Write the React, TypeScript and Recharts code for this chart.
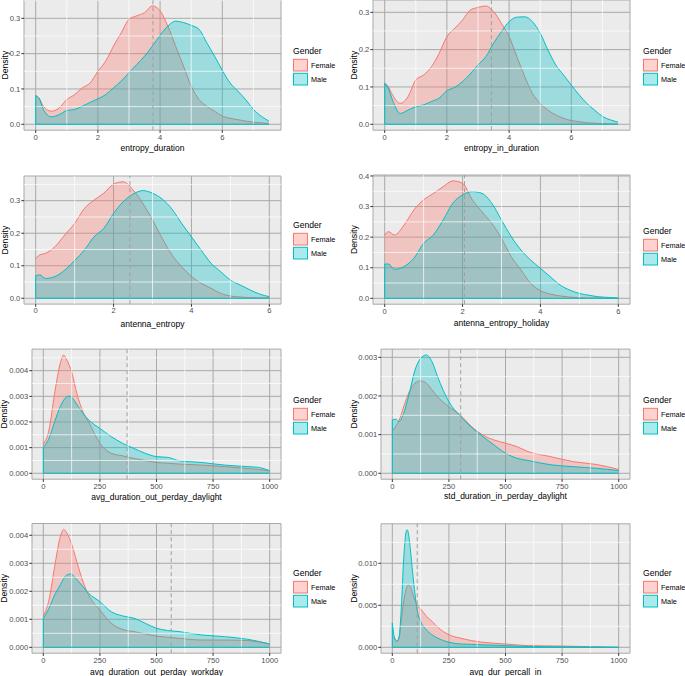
import React from 'react';
import { AreaChart, Area, XAxis, YAxis, CartesianGrid, ReferenceLine } from 'recharts';

const FEMALE = '#F8766D';
const MALE = '#00BFC4';
const FONT = '"Liberation Sans", Arial, sans-serif';

// density estimates
const entropyGrid = [0, 0.1, 0.25, 0.5, 0.75, 1, 1.25, 1.5, 1.75, 2, 2.25, 2.5, 2.75, 3, 3.25, 3.5, 3.75, 4, 4.25, 4.5, 4.75, 5, 5.25, 5.5, 5.75, 6, 6.25, 6.5, 6.75, 7, 7.25, 7.5];
const p1Female = [0.081, 0.075, 0.051, 0.037, 0.046, 0.07, 0.084, 0.103, 0.117, 0.15, 0.179, 0.221, 0.259, 0.297, 0.307, 0.316, 0.335, 0.321, 0.278, 0.221, 0.165, 0.108, 0.07, 0.051, 0.037, 0.023, 0.017, 0.013, 0.009, 0.006, 0.004, 0.002];
const p1Male = [0.081, 0.075, 0.042, 0.021, 0.027, 0.039, 0.042, 0.051, 0.062, 0.072, 0.084, 0.103, 0.122, 0.146, 0.169, 0.193, 0.221, 0.252, 0.278, 0.292, 0.288, 0.28, 0.269, 0.231, 0.193, 0.153, 0.117, 0.094, 0.07, 0.042, 0.023, 0.009];
const p2Female = [0.11, 0.103, 0.079, 0.056, 0.074, 0.119, 0.132, 0.154, 0.19, 0.235, 0.257, 0.279, 0.306, 0.313, 0.317, 0.302, 0.271, 0.235, 0.181, 0.128, 0.083, 0.056, 0.038, 0.025, 0.016, 0.01, 0.007, 0.004, 0.003, 0.002, 0.001, 0.001];
const p2Male = [0.11, 0.099, 0.065, 0.029, 0.038, 0.047, 0.052, 0.061, 0.07, 0.09, 0.099, 0.114, 0.135, 0.159, 0.181, 0.217, 0.248, 0.275, 0.287, 0.288, 0.275, 0.244, 0.199, 0.159, 0.132, 0.105, 0.079, 0.056, 0.038, 0.021, 0.012, 0.006];

const antennaGrid = [0, 0.1, 0.25, 0.5, 0.75, 1, 1.25, 1.5, 1.75, 2, 2.25, 2.5, 2.75, 3, 3.25, 3.5, 3.75, 4, 4.25, 4.5, 4.75, 5, 5.25, 5.5, 5.75, 6];
const p3Female = [0.123, 0.133, 0.138, 0.159, 0.195, 0.23, 0.276, 0.302, 0.323, 0.351, 0.358, 0.333, 0.292, 0.241, 0.184, 0.133, 0.097, 0.067, 0.046, 0.031, 0.015, 0.007, 0.004, 0.002, 0.001, 0.001];
const p3Male = [0.069, 0.072, 0.061, 0.067, 0.087, 0.116, 0.148, 0.189, 0.215, 0.261, 0.297, 0.32, 0.331, 0.323, 0.305, 0.274, 0.23, 0.189, 0.148, 0.108, 0.082, 0.056, 0.041, 0.026, 0.013, 0.005];
const p4Female = [0.207, 0.218, 0.207, 0.24, 0.289, 0.322, 0.343, 0.365, 0.384, 0.376, 0.322, 0.283, 0.245, 0.196, 0.136, 0.093, 0.049, 0.025, 0.014, 0.008, 0.004, 0.002, 0.001, 0.001, 0, 0];
const p4Male = [0.112, 0.112, 0.095, 0.104, 0.131, 0.18, 0.207, 0.256, 0.311, 0.338, 0.349, 0.343, 0.311, 0.256, 0.202, 0.158, 0.125, 0.098, 0.071, 0.044, 0.027, 0.016, 0.01, 0.005, 0.003, 0.001];

const p5Grid = [0, 25, 50, 75, 90, 100, 115, 125, 150, 175, 200, 250, 300, 350, 400, 450, 500, 550, 600, 700, 800, 900, 950, 1000];
const p5Female = [0.00113, 0.00169, 0.00312, 0.00429, 0.00461, 0.00448, 0.0042, 0.00396, 0.00305, 0.0024, 0.002, 0.00117, 0.00078, 0.00068, 0.00058, 0.0005, 0.00042, 0.00039, 0.00036, 0.00032, 0.00026, 0.00019, 0.00015, 0.0001];
const p5Male = [0.00101, 0.00136, 0.00201, 0.0026, 0.00285, 0.00296, 0.00301, 0.00296, 0.00266, 0.00234, 0.00208, 0.00175, 0.00143, 0.00117, 0.00097, 0.00078, 0.00065, 0.00062, 0.00049, 0.00042, 0.00032, 0.00026, 0.00023, 0.0001];

const p6Grid = [0, 15, 30, 50, 75, 100, 125, 150, 175, 200, 250, 300, 350, 400, 450, 500, 550, 600, 700, 800, 900, 1000];
const p6Female = [0.00108, 0.00122, 0.00137, 0.00172, 0.00211, 0.00233, 0.00239, 0.00233, 0.00216, 0.00198, 0.00172, 0.00151, 0.00121, 0.00099, 0.00086, 0.00078, 0.00069, 0.00056, 0.00043, 0.0003, 0.00023, 0.0001];
const p6Male = [0.00138, 0.0014, 0.00134, 0.00155, 0.00207, 0.00267, 0.00297, 0.00306, 0.00289, 0.0025, 0.00185, 0.00148, 0.00119, 0.00095, 0.00073, 0.00052, 0.00039, 0.00033, 0.00022, 0.00017, 0.00013, 0.00007];

const p7Grid = [0, 25, 50, 75, 90, 100, 120, 150, 175, 200, 250, 300, 350, 400, 450, 500, 550, 600, 700, 800, 900, 1000];
const p7Female = [0.00112, 0.00169, 0.00288, 0.00395, 0.00421, 0.00413, 0.0038, 0.003, 0.00235, 0.00187, 0.00133, 0.00086, 0.00064, 0.00056, 0.00048, 0.0004, 0.00036, 0.00032, 0.00026, 0.00026, 0.00024, 0.00012];
const p7Male = [0.00104, 0.00139, 0.00187, 0.00223, 0.00245, 0.00256, 0.00262, 0.0024, 0.00217, 0.00193, 0.00163, 0.00127, 0.00112, 0.00104, 0.00086, 0.00068, 0.0006, 0.00056, 0.00044, 0.00038, 0.00029, 0.00012];

const p8Grid = [0, 10, 20, 30, 40, 50, 60, 65, 70, 80, 90, 100, 110, 125, 150, 175, 200, 250, 300, 350, 400, 500, 600, 750, 1000];
const p8Female = [0.0013, 0.0011, 0.0007, 0.0011, 0.0033, 0.0054, 0.0068, 0.0072, 0.0074, 0.0072, 0.0064, 0.0056, 0.005, 0.0046, 0.0037, 0.0031, 0.0024, 0.0015, 0.0011, 0.0008, 0.0006, 0.0004, 0.0002, 0.00015, 0];
const p8Male = [0.0029, 0.0011, 0.0007, 0.0013, 0.0048, 0.0104, 0.0136, 0.014, 0.0137, 0.0116, 0.0088, 0.0064, 0.0044, 0.0031, 0.0021, 0.0015, 0.0011, 0.0006, 0.0004, 0.00035, 0.0003, 0.0002, 0.0001, 0.00005, 0];

const means = [3.77, 3.43, 2.42, 2.05, 370, 302, 565, 110];
const titles = [
  'entropy_duration', 'entropy_in_duration', 'antenna_entropy', 'antenna_entropy_holiday',
  'avg_duration_out_perday_daylight', 'std_duration_in_perday_daylight',
  'avg_duration_out_perday_workday', 'avg_dur_percall_in',
];

const entropyTicks = [0, 2, 4, 6];
const durationTicks = [0, 250, 500, 750, 1000];
const durationMinor = [125, 375, 625, 875];

type Cfg = {
  xs: number[]; female: number[]; male: number[];
  xTicks: number[]; xMinor: number[]; yTicks: number[]; yMinor: number[];
  xDomain: [number, number]; yDomain: [number, number]; digits: number;
  left: number; top: number; w: number; h: number;
  plot: { x: number; y: number; w: number; h: number };
  legend: { x: number; y: number }; densityX: number; titleOffset: number;
};

const panels: Cfg[] = [
  { xs: entropyGrid, female: p1Female, male: p1Male, xTicks: entropyTicks, xMinor: [1, 3, 5, 7], yTicks: [0, 0.1, 0.2, 0.3], yMinor: [0.05, 0.15, 0.25, 0.35], xDomain: [-0.376, 7.887], yDomain: [-0.01675, 0.3518], digits: 1,
    left: 0, top: 0, w: 343, h: 170, plot: { x: 24, y: 0, w: 257, h: 130.2 }, legend: { x: 293, y: 51 }, densityX: 5, titleOffset: 19.3 },
  { xs: entropyGrid, female: p2Female, male: p2Male, xTicks: entropyTicks, xMinor: [1, 3, 5, 7], yTicks: [0, 0.1, 0.2, 0.3], yMinor: [0.05, 0.15, 0.25], xDomain: [-0.376, 7.887], yDomain: [-0.01586, 0.333], digits: 1,
    left: 343, top: 0, w: 342, h: 170, plot: { x: 30, y: 0, w: 257, h: 130.2 }, legend: { x: 300, y: 51 }, densityX: 11, titleOffset: 18.7 },
  { xs: antennaGrid, female: p3Female, male: p3Male, xTicks: entropyTicks, xMinor: [1, 3, 5], yTicks: [0, 0.1, 0.2, 0.3], yMinor: [0.05, 0.15, 0.25, 0.35], xDomain: [-0.3, 6.3], yDomain: [-0.0179, 0.3759], digits: 1,
    left: 0, top: 170, w: 343, h: 170, plot: { x: 24, y: 6, w: 257, h: 128.1 }, legend: { x: 293, y: 55 }, densityX: 5, titleOffset: 13 },
  { xs: antennaGrid, female: p4Female, male: p4Male, xTicks: entropyTicks, xMinor: [1, 3, 5], yTicks: [0, 0.1, 0.2, 0.3, 0.4], yMinor: [0.05, 0.15, 0.25, 0.35], xDomain: [-0.3, 6.3], yDomain: [-0.0192, 0.4032], digits: 1,
    left: 343, top: 170, w: 342, h: 170, plot: { x: 30, y: 5, w: 257, h: 129.2 }, legend: { x: 300, y: 61 }, densityX: 11, titleOffset: 13.7 },
  { xs: p5Grid, female: p5Female, male: p5Male, xTicks: durationTicks, xMinor: durationMinor, yTicks: [0, 0.001, 0.002, 0.003, 0.004], yMinor: [0.0005, 0.0015, 0.0025, 0.0035, 0.0045], xDomain: [-50, 1050], yDomain: [-0.0002305, 0.0048405], digits: 3,
    left: 0, top: 340, w: 343, h: 170, plot: { x: 32, y: 9.1, w: 249, h: 130.1 }, legend: { x: 293, y: 60 }, densityX: 4, titleOffset: 10.3 },
  { xs: p6Grid, female: p6Female, male: p6Male, xTicks: durationTicks, xMinor: durationMinor, yTicks: [0, 0.001, 0.002, 0.003], yMinor: [0.0005, 0.0015, 0.0025], xDomain: [-50, 1050], yDomain: [-0.000153, 0.003213], digits: 3,
    left: 343, top: 340, w: 342, h: 170, plot: { x: 38, y: 9.1, w: 249, h: 130.1 }, legend: { x: 300, y: 60 }, densityX: 11, titleOffset: 11 },
  { xs: p7Grid, female: p7Female, male: p7Male, xTicks: durationTicks, xMinor: durationMinor, yTicks: [0, 0.001, 0.002, 0.003, 0.004], yMinor: [0.0005, 0.0015, 0.0025, 0.0035], xDomain: [-50, 1050], yDomain: [-0.0002105, 0.0044205], digits: 3,
    left: 0, top: 510, w: 343, h: 166, plot: { x: 32, y: 13.5, w: 249, h: 129.7 }, legend: { x: 293, y: 63 }, densityX: 4, titleOffset: 1.4 },
  { xs: p8Grid, female: p8Female, male: p8Male, xTicks: durationTicks, xMinor: durationMinor, yTicks: [0, 0.005, 0.01], yMinor: [0.0025, 0.0075, 0.0125], xDomain: [-50, 1050], yDomain: [-0.0007, 0.0147], digits: 3,
    left: 343, top: 510, w: 342, h: 166, plot: { x: 38, y: 13.8, w: 249, h: 129.4 }, legend: { x: 300, y: 63 }, densityX: 11, titleOffset: 1.4 },
];

const tickStyle = { fontSize: 7.6, fill: '#4D4D4D', fontFamily: FONT };

function GenderLegend({ x, y }: { x: number; y: number }) {
  const items = [
    { name: 'Female', color: FEMALE },
    { name: 'Male', color: MALE },
  ];
  return (
    <svg style={{ position: 'absolute', left: x, top: y - 8 }} width={60} height={46}>
      <text x={0} y={8} fontSize={8.6} fontFamily={FONT} fill="#000" dominantBaseline="central">Gender</text>
      {items.map((it, i) => (
        <g key={it.name}>
          <rect x={0.5} y={16.3 + i * 14} width={14} height={11.7} fill={it.color} fillOpacity={0.33} stroke={it.color} strokeWidth={1} />
          <text x={18} y={22.3 + i * 14} fontSize={7.3} fontFamily={FONT} fill="#000" dominantBaseline="central">{it.name}</text>
        </g>
      ))}
    </svg>
  );
}

function DensityPanel({ cfg, title, mean }: { cfg: Cfg; title: string; mean: number }) {
  const data = cfg.xs.map((x, i) => ({ x, female: cfg.female[i], male: cfg.male[i] }));
  const { plot } = cfg;
  const xAxisH = cfg.h - plot.y - plot.h;
  const cy = plot.y + plot.h / 2;
  const lastX = cfg.xs[cfg.xs.length - 1];
  return (
    <div style={{ position: 'absolute', left: cfg.left, top: cfg.top, width: cfg.w, height: cfg.h }}>
      <AreaChart
        width={cfg.w}
        height={cfg.h}
        data={data}
        margin={{ top: plot.y, right: cfg.w - plot.x - plot.w, left: 0, bottom: 0 }}
      >
        <CartesianGrid fill="#EBEBEB" fillOpacity={1} stroke="#A9A9A9" strokeWidth={1} />
        {cfg.xMinor.map((v) => (
          <ReferenceLine key={'xm' + v} x={v} stroke="#FFFFFF" strokeWidth={0.7} />
        ))}
        {cfg.yMinor.map((v) => (
          <ReferenceLine key={'ym' + v} y={v} stroke="#FFFFFF" strokeWidth={0.7} />
        ))}
        <XAxis
          type="number"
          dataKey="x"
          domain={cfg.xDomain}
          ticks={cfg.xTicks}
          interval={0}
          allowDataOverflow
          height={xAxisH}
          axisLine={false}
          tickLine={{ stroke: '#333333' }}
          tickSize={2.7}
          tickMargin={1.3}
          tick={tickStyle}
          label={{ value: title, position: 'insideBottom', offset: cfg.titleOffset, fontSize: 8.5, fill: '#000', fontFamily: FONT }}
        />
        <YAxis
          type="number"
          domain={cfg.yDomain}
          ticks={cfg.yTicks}
          interval={0}
          allowDataOverflow
          width={plot.x}
          axisLine={false}
          tickLine={{ stroke: '#333333' }}
          tickSize={2.7}
          tickMargin={1}
          tick={tickStyle}
          tickFormatter={(v: number) => v.toFixed(cfg.digits)}
          label={{
            value: 'Density',
            content: () => (
              <text
                x={cfg.densityX}
                y={cy}
                transform={`rotate(-90 ${cfg.densityX} ${cy})`}
                textAnchor="middle"
                dominantBaseline="central"
                fontSize={8.6}
                fontFamily={FONT}
                fill="#000"
              >
                Density
              </text>
            ),
          }}
        />
        <Area type="monotone" dataKey="female" baseValue={0} stroke={FEMALE} strokeWidth={1} fill={FEMALE} fillOpacity={0.33} dot={false} activeDot={false} isAnimationActive={false} />
        <Area type="monotone" dataKey="male" baseValue={0} stroke={MALE} strokeWidth={1} fill={MALE} fillOpacity={0.33} dot={false} activeDot={false} isAnimationActive={false} />
        <ReferenceLine segment={[{ x: 0, y: 0 }, { x: lastX, y: 0 }]} stroke={MALE} strokeWidth={1} />
        <ReferenceLine segment={[{ x: 0, y: 0 }, { x: 0, y: cfg.male[0] }]} stroke={MALE} strokeWidth={1} />
        <ReferenceLine x={mean} stroke="#A0A0A0" strokeWidth={1} strokeDasharray="4 3" />
      </AreaChart>
      <GenderLegend x={cfg.legend.x} y={cfg.legend.y} />
    </div>
  );
}

export default function App() {
  return (
    <div style={{ position: 'absolute', left: 0, top: 0, width: 685, height: 676, background: '#FFFFFF', overflow: 'hidden' }}>
      {panels.map((cfg, i) => (
        <DensityPanel key={titles[i]} cfg={cfg} title={titles[i]} mean={means[i]} />
      ))}
    </div>
  );
}
